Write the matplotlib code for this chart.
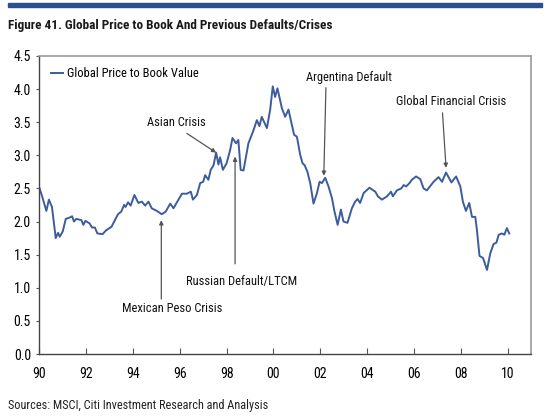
import numpy as np
import matplotlib as mplt
mplt.use('Agg')
import matplotlib.pyplot as plt

mplt.rcParams['font.family'] = ['Roboto Condensed', 'Roboto', 'DejaVu Sans']
mplt.rcParams['font.stretch'] = 'condensed'

# data (year, price to book)
years = [1990.00, 1990.12, 1990.30, 1990.41, 1990.54, 1990.70, 1990.80, 1990.87, 1991.00, 1991.13,
         1991.30, 1991.40, 1991.48, 1991.58, 1991.80, 1991.88, 1991.97, 1992.15, 1992.25, 1992.37,
         1992.48, 1992.70, 1992.86, 1993.08, 1993.36, 1993.50, 1993.62, 1993.68, 1993.79, 1993.90,
         1994.06, 1994.23, 1994.38, 1994.52, 1994.66, 1994.80, 1995.02, 1995.23, 1995.40, 1995.59,
         1995.73, 1996.09, 1996.30, 1996.47, 1996.56, 1996.73, 1996.87, 1997.00, 1997.08, 1997.22,
         1997.32, 1997.44, 1997.55, 1997.65, 1997.72, 1997.84, 1998.00, 1998.15, 1998.25, 1998.40,
         1998.50, 1998.60, 1998.72, 1998.93, 1999.15, 1999.29, 1999.40, 1999.50, 1999.72, 1999.86,
         1999.97, 2000.07, 2000.17, 2000.36, 2000.50, 2000.64, 2000.74, 2000.88, 2001.00, 2001.14,
         2001.24, 2001.33, 2001.45, 2001.57, 2001.71, 2001.85, 2001.97, 2002.07, 2002.21, 2002.35,
         2002.50, 2002.60, 2002.74, 2002.88, 2002.99, 2003.16, 2003.35, 2003.49, 2003.59, 2003.70,
         2003.85, 2004.10, 2004.35, 2004.46, 2004.63, 2004.85, 2005.02, 2005.10, 2005.27, 2005.46,
         2005.56, 2005.67, 2005.81, 2005.91, 2006.09, 2006.27, 2006.41, 2006.55, 2006.84, 2007.05,
         2007.20, 2007.37, 2007.60, 2007.80, 2007.98, 2008.09, 2008.22, 2008.36, 2008.48, 2008.62,
         2008.69, 2008.80, 2008.95, 2009.12, 2009.26, 2009.40, 2009.52, 2009.62, 2009.76, 2009.86,
         2009.97, 2010.07]
ptb = [2.51, 2.38, 2.16, 2.33, 2.22, 1.75, 1.83, 1.77, 1.85, 2.04,
       2.06, 2.08, 2.00, 2.04, 2.02, 1.95, 2.01, 1.97, 1.91, 1.91,
       1.82, 1.81, 1.87, 1.92, 2.11, 2.15, 2.25, 2.22, 2.29, 2.24,
       2.40, 2.28, 2.30, 2.24, 2.30, 2.20, 2.16, 2.11, 2.15, 2.27,
       2.20, 2.42, 2.42, 2.45, 2.33, 2.40, 2.58, 2.60, 2.70, 2.63,
       2.78, 2.85, 3.04, 2.86, 2.97, 2.78, 2.88, 3.08, 3.26, 3.18,
       3.23, 2.78, 2.77, 3.18, 3.38, 3.53, 3.44, 3.58, 3.41, 3.69,
       4.04, 3.88, 4.01, 3.71, 3.58, 3.69, 3.53, 3.31, 3.28, 3.01,
       2.88, 2.85, 2.75, 2.58, 2.27, 2.42, 2.60, 2.58, 2.66, 2.53,
       2.35, 2.16, 1.95, 2.18, 2.00, 1.98, 2.20, 2.30, 2.34, 2.28,
       2.43, 2.51, 2.45, 2.38, 2.33, 2.38, 2.45, 2.38, 2.47, 2.50,
       2.55, 2.53, 2.58, 2.63, 2.68, 2.64, 2.50, 2.47, 2.60, 2.67,
       2.60, 2.74, 2.59, 2.68, 2.53, 2.30, 2.16, 2.28, 2.07, 2.07,
       1.87, 1.48, 1.45, 1.27, 1.52, 1.66, 1.68, 1.80, 1.82, 1.80,
       1.90, 1.82]

xticks = [1990, 1992, 1994, 1996, 1998, 2000, 2002, 2004, 2006, 2008, 2010]
xticklabels = ['90', '92', '94', '96', '98', '00', '02', '04', '06', '08', '10']
yticks = [0.0, 0.5, 1.0, 1.5, 2.0, 2.5, 3.0, 3.5, 4.0, 4.5]

# events: label, point on line, arrow tail, text position
events = [
    ('Asian Crisis', (1997.55, 3.04), (1996.3, 3.33), (1995.84, 3.49)),
    ('Mexican Peso Crisis', (1995.21, 2.02), (1995.21, 0.83), (1995.67, 0.68)),
    ('Russian Default/LTCM', (1998.36, 2.98), (1998.36, 1.36), (1998.62, 1.10)),
    ('Argentina Default', (2002.15, 2.69), (2002.24, 4.02), (2003.24, 4.17)),
    ('Global Financial Crisis', (2007.37, 2.81), (2007.22, 3.64), (2007.60, 3.81)),
]

fig = plt.figure(figsize=(5.5, 4.17), dpi=100)

# top rule and title
fig.patches.append(plt.Rectangle((0.015, 0.983), 0.97, 0.009, transform=fig.transFigure,
                                 color='#2d4f8e', zorder=5))
fig.text(0.015, 0.938, 'Figure 41. Global Price to Book And Previous Defaults/Crises',
         fontsize=9.5, fontweight='bold', va='center', ha='left', color='#1a1a1a')
fig.text(0.015, 0.027, 'Sources: MSCI, Citi Investment Research and Analysis',
         fontsize=8.8, va='center', ha='left', color='#222222')

ax = fig.add_axes([0.0715, 0.151, 0.894, 0.715])
line, = ax.plot(years, ptb, color='#3d5c9e', lw=1.4, label='Global Price to Book Value')

ax.set_xlim(1990, 2011)
ax.set_ylim(0, 4.5)
ax.set_xticks(xticks)
ax.set_xticklabels(xticklabels)
ax.set_yticks(yticks)
ax.set_yticklabels(['%.1f' % y for y in yticks])
ax.tick_params(axis='x', direction='in', length=4, labelsize=10, pad=9, color='#555555')
ax.tick_params(axis='y', direction='out', length=2, labelsize=10, pad=4, color='#555555')

# frame
for side in ['top', 'right']:
    ax.spines[side].set_color('#999999')
    ax.spines[side].set_linewidth(1.2)
for side in ['left', 'bottom']:
    ax.spines[side].set_color('#444444')
    ax.spines[side].set_linewidth(1.0)

ax.legend(loc='upper left', frameon=False, fontsize=9, handlelength=1.0,
          handletextpad=0.35, borderaxespad=0.5)

# annotations
for label, pt, tail, txt in events:
    ax.annotate('', xy=pt, xytext=tail,
                arrowprops=dict(arrowstyle='-|>', color='#555555', lw=0.9,
                                mutation_scale=6, shrinkA=0, shrinkB=0))
    ax.text(txt[0], txt[1], label, fontsize=9, ha='center', va='center', color='#111111')

fig.savefig('out.png', dpi=100)
